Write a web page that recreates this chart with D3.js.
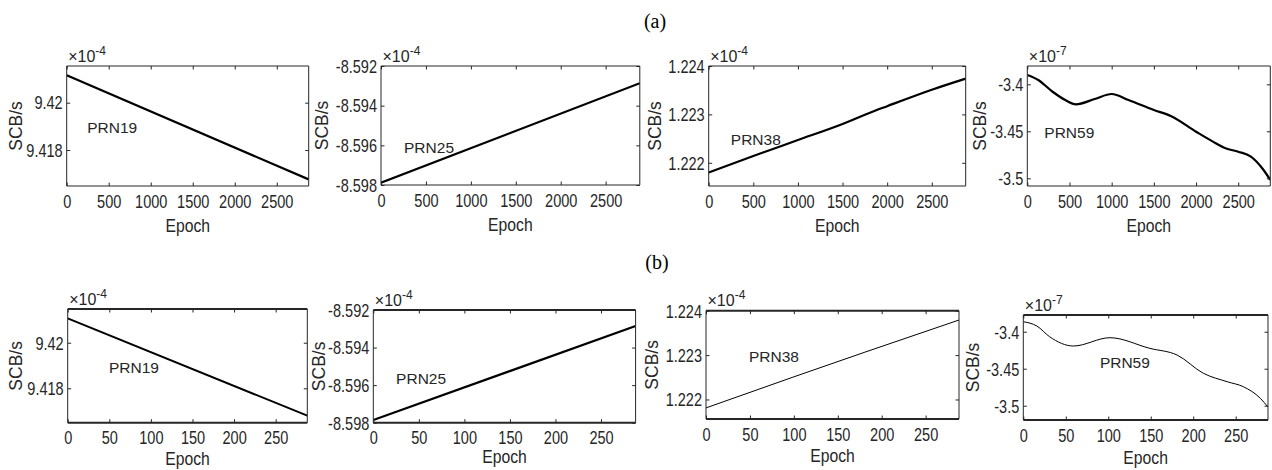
<!DOCTYPE html>
<html>
<head>
<meta charset="utf-8">
<script src="https://cdn.jsdelivr.net/npm/d3@7"></script>
<style>
  body { margin: 0; background: #fff; }
  svg { display: block; }
  .tick text, .lab, .ylab, .mult, .prn { font-family: "Liberation Sans", Arial, sans-serif; fill: #262626; }
  .cap { font-family: "Liberation Serif", "Times New Roman", serif; fill: #000; }
</style>
</head>
<body>
<div id="grafik"></div>
<script>
// epochs and SCB values (x10^-4 or x10^-7)
const epochA_lin = [0, 2880];
const prn19a = [9.42116, 9.41676];
const prn25a = [-8.59788, -8.59287];
const epochA_38 = [0, 500, 1000, 1500, 1800, 2000, 2500, 2880];
const prn38a = [1.2218, 1.22214, 1.22247, 1.2228, 1.22303, 1.22317, 1.22351, 1.22374];
const epochA_59 = [0, 130, 300, 450, 577, 800, 1000, 1200, 1500, 1700, 2000, 2200, 2350, 2500, 2650, 2800, 2880];
const prn59a = [-3.3901, -3.3954, -3.4079, -3.4167, -3.4213, -3.4156, -3.4103, -3.4167, -3.4273, -3.4337, -3.4504, -3.461, -3.468, -3.4717, -3.477, -3.4912, -3.5018];

const epochB_lin = [0, 288];
const prn19b = [9.42107, 9.4168];
const prn25b = [-8.59786, -8.59285];
const epochB_38 = [0, 100, 180, 288];
const prn38b = [1.22181, 1.22251, 1.22306, 1.22379];
const epochB_59 = [0, 16, 31, 59, 102, 149, 181, 212, 240, 259, 279, 288];
const prn59b = [-3.3865, -3.3923, -3.4068, -3.4193, -3.4081, -3.4225, -3.4315, -3.4562, -3.4676, -3.4743, -3.49, -3.5018];

const xTicksA = [0, 500, 1000, 1500, 2000, 2500];
const xTicksB = [0, 50, 100, 150, 200, 250];
const yTicks19 = [9.418, 9.42];
const yTicks25 = [-8.598, -8.596, -8.594, -8.592];
const yTicks38 = [1.222, 1.223, 1.224];
const yTicks59 = [-3.5, -3.45, -3.4];

const panels = [
  {name: "PRN19", ex: epochA_lin, ey: prn19a, xmax: 2880, yd: [9.41648, 9.42155], yt: yTicks19, xt: xTicksA, p: "-4",
   box: [66.7, 66, 242, 120], lab: [0.085, 0.556], yl: 51, eo: 46, lw: 2.2, row: 0},
  {name: "PRN25", ex: epochA_lin, ey: prn25a, xmax: 2880, yd: [-8.598, -8.592], yt: yTicks25, xt: xTicksA, p: "-4",
   box: [381, 66, 258.8, 119], lab: [0.089, 0.734], yl: 59.3, eo: 46, lw: 2.2, row: 0},
  {name: "PRN38", ex: epochA_38, ey: prn38a, xmax: 2880, yd: [1.22152, 1.224], yt: yTicks38, xt: xTicksA, p: "-4",
   box: [708.7, 66, 257, 120], lab: [0.086, 0.658], yl: 53.7, eo: 45.5, lw: 2.2, row: 0},
  {name: "PRN59", ex: epochA_59, ey: prn59a, xmax: 2880, yd: [-3.5082, -3.3805], yt: yTicks59, xt: xTicksA, p: "-7",
   box: [1027.3, 66, 243, 120], lab: [0.07, 0.6], yl: 48, eo: 45.5, lw: 2.2, row: 0},
  {name: "PRN19", ex: epochB_lin, ey: prn19b, xmax: 288, yd: [9.41649, 9.42148], yt: yTicks19, xt: xTicksB, p: "-4",
   box: [67.7, 309, 239.6, 113.7], lab: [0.172, 0.566], yl: 52, eo: 42, lw: 2, row: 1},
  {name: "PRN25", ex: epochB_lin, ey: prn25b, xmax: 288, yd: [-8.598, -8.592], yt: yTicks25, xt: xTicksB, p: "-4",
   box: [373.3, 310, 262.3, 112.7], lab: [0.087, 0.657], yl: 55, eo: 40.5, lw: 2.2, row: 1},
  {name: "PRN38", ex: epochB_38, ey: prn38b, xmax: 288, yd: [1.22156, 1.224], yt: yTicks38, xt: xTicksB, p: "-4",
   box: [706, 310.7, 253, 108.3], lab: [0.17, 0.471], yl: 54.3, eo: 42.5, lw: 1, row: 1},
  {name: "PRN59", ex: epochB_59, ey: prn59b, xmax: 288, yd: [-3.5193, -3.3774], yt: yTicks59, xt: xTicksB, p: "-7",
   box: [1023.3, 315, 244.7, 105], lab: [0.313, 0.502], yl: 50.6, eo: 44, lw: 1, row: 1}
];

const svg = d3.select("#grafik").append("svg")
  .attr("width", 1272)
  .attr("height", 470);

svg.append("text").attr("class", "cap")
  .attr("x", 655).attr("y", 27.5)
  .attr("text-anchor", "middle").style("font-size", "20px").text("(a)");
svg.append("text").attr("class", "cap")
  .attr("x", 657).attr("y", 268.5)
  .attr("text-anchor", "middle").style("font-size", "20px").text("(b)");

const fmt = d => String(+d.toFixed(4));
const ink = "#262626";
const sx = 0.83; // the figure's axis text is narrow

panels.forEach((pn, i) => {
  const [L, T, W, H] = pn.box;
  const g = svg.append("g").attr("transform", `translate(${L},${T})`);

  const x = d3.scaleLinear().domain([0, pn.xmax]).range([0, W]);
  const y = d3.scaleLinear().domain(pn.yd).range([H, 0]);

  g.append("clipPath").attr("id", "c" + i)
    .append("rect").attr("width", W).attr("height", H);

  const pts = pn.ex.map((e, k) => [e, pn.ey[k]]);
  g.append("path")
    .datum(pts)
    .attr("clip-path", `url(#c${i})`)
    .attr("fill", "none")
    .attr("stroke", "#000")
    .attr("stroke-width", pn.lw)
    .attr("d", d3.line().x(d => x(d[0])).y(d => y(d[1])).curve(d3.curveMonotoneX));

  // axes, ticks inward
  const xb = g.append("g").attr("transform", `translate(0,${H})`)
    .call(d3.axisBottom(x).tickValues(pn.xt).tickSize(-3.5).tickFormat(d3.format("d")));
  const xt = g.append("g")
    .call(d3.axisTop(x).tickValues(pn.xt).tickSize(-3.5).tickFormat(""));
  const yl = g.append("g")
    .call(d3.axisLeft(y).tickValues(pn.yt).tickSize(-3.5).tickFormat(fmt));
  const yr = g.append("g").attr("transform", `translate(${W},0)`)
    .call(d3.axisRight(y).tickValues(pn.yt).tickSize(-3.5).tickFormat(""));

  [xb, xt, yl, yr].forEach(a => {
    a.select(".domain").remove();
    a.selectAll(".tick line").attr("stroke", ink);
  });
  xb.selectAll(".tick text")
    .attr("y", 0).attr("dy", null)
    .attr("transform", `translate(0,21.5) scale(${sx},1)`)
    .style("font-size", "17.5px");
  yl.selectAll(".tick text")
    .attr("x", 0).attr("dy", "0.36em")
    .attr("transform", `translate(-4,0) scale(${sx},1)`)
    .style("font-size", "17.5px");

  // frame
  const hw = pn.row === 1 ? 2 : 1;
  g.append("line").attr("x1", 0).attr("x2", W).attr("y1", 0).attr("y2", 0)
    .attr("stroke", ink).attr("stroke-width", hw);
  g.append("line").attr("x1", 0).attr("x2", W).attr("y1", H).attr("y2", H)
    .attr("stroke", ink).attr("stroke-width", hw);
  g.append("line").attr("x1", 0).attr("x2", 0).attr("y1", 0).attr("y2", H)
    .attr("stroke", ink).attr("stroke-width", 1);
  g.append("line").attr("x1", W).attr("x2", W).attr("y1", 0).attr("y2", H)
    .attr("stroke", ink).attr("stroke-width", 1);

  // labels
  g.append("text").attr("class", "lab")
    .attr("transform", `translate(${W / 2},${H + pn.eo}) scale(0.85,1)`)
    .attr("text-anchor", "middle").style("font-size", "18.5px").text("Epoch");
  g.append("text").attr("class", "ylab")
    .attr("transform", `translate(${-pn.yl},${H / 2}) rotate(-90)`)
    .attr("dy", "0.36em")
    .attr("text-anchor", "middle").style("font-size", "17.5px").text("SCB/s");

  const m = g.append("text").attr("class", "mult")
    .attr("x", 1.5).attr("y", -4.5).style("font-size", "16px");
  m.append("tspan").style("font-weight", 300).text("\u00d7");
  m.append("tspan").text("10");
  m.append("tspan").attr("dy", -7).style("font-size", "12px").text(pn.p);

  g.append("text").attr("class", "prn")
    .attr("x", pn.lab[0] * W).attr("y", pn.lab[1] * H)
    .style("font-size", "15.5px").text(pn.name);
});
</script>
</body>
</html>
